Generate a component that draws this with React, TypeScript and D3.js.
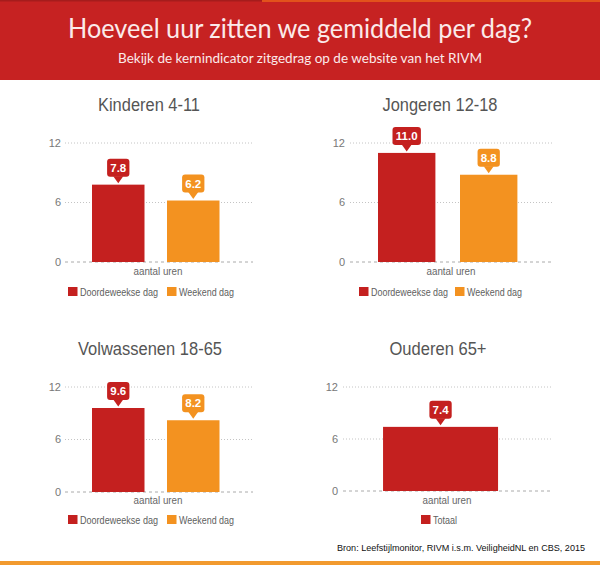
import React from 'react';
import * as d3 from 'd3';

// data
const seriesNames = ["Doordeweekse dag", "Weekend dag"];
const totaalNames = ["Totaal"];
const kinderenValues = [7.8, 6.2];
const jongerenValues = [11.0, 8.8];
const volwassenenValues = [9.6, 8.2];
const ouderenValues = [7.4];
const yTicks = [0, 6, 12];
const panelTitles = ["Kinderen 4-11", "Jongeren 12-18", "Volwassenen 18-65", "Ouderen 65+"];
const xLabel = "aantal uren";
const headerTitle = "Hoeveel uur zitten we gemiddeld per dag?";
const headerSub = "Bekijk de kernindicator zitgedrag op de website van het RIVM";
const sourceText = "Bron: Leefstijlmonitor, RIVM i.s.m. VeiligheidNL en CBS, 2015";

const RED = "#c4201f";
const ORANGE = "#f39220";
const FONT = "'Liberation Sans', Arial, sans-serif";

interface Layout {
  titleX: number; titleY: number; titleW: number;
  tickX: number; gridX: [number, number]; barX: [number, number]; y: [number, number];
  xLabelX: number; xLabelY: number; legendY: number; legendX: number[]; legendW: number[];
}

const layouts: Layout[] = [
  { titleX: 149, titleY: 111, titleW: 102, tickX: 61, gridX: [65, 253], barX: [80.75, 230.75], y: [262, 143], xLabelX: 158, xLabelY: 275, legendY: 287, legendX: [68, 167], legendW: [78, 55] },
  { titleX: 440, titleY: 111, titleW: 115, tickX: 345, gridX: [350, 553], barX: [365.7, 529.7], y: [262, 143], xLabelX: 451, xLabelY: 275, legendY: 287, legendX: [359, 455], legendW: [77, 55] },
  { titleX: 150, titleY: 355, titleW: 144, tickX: 61, gridX: [65, 253], barX: [80.75, 230.75], y: [492, 387], xLabelX: 158, xLabelY: 504, legendY: 515, legendX: [68, 167], legendW: [78, 55] },
  { titleX: 438, titleY: 355, titleW: 97, tickX: 338, gridX: [343, 552], barX: [358.4, 522.7], y: [491, 387], xLabelX: 447, xLabelY: 504, legendY: 515, legendX: [421], legendW: [24] },
];

const labelWidth = (s: string) =>
  s.split("").reduce((w, c) => w + (c === "." ? 3.1 : 6.1), 0) + 7;

interface PanelProps {
  title: string; names: string[]; values: number[]; colors: string[]; layout: Layout;
}

const Panel: React.FC<PanelProps> = ({ title, names, values, colors, layout }) => {
  const x = d3.scaleBand<string>().domain(names).range(layout.barX).paddingInner(0.3).paddingOuter(0.15);
  const y = d3.scaleLinear().domain([0, 12]).range(layout.y);
  const fmt = d3.format(".1f");

  return (
    <g>
      <text x={layout.titleX} y={layout.titleY} textAnchor="middle" fontFamily={FONT} fontSize={17.5}
        fill="#555" textLength={layout.titleW} lengthAdjust="spacingAndGlyphs">{title}</text>

      {yTicks.map(t => (
        <g key={t}>
          <line x1={layout.gridX[0]} x2={layout.gridX[1]} y1={y(t)} y2={y(t)}
            stroke={t === 0 ? "#aaa" : "#c4c4c4"} strokeWidth={1}
            strokeDasharray={t === 0 ? "3,3" : "1,2"} />
          <text x={layout.tickX} y={y(t)} dy="0.35em" textAnchor="end" fontFamily={FONT}
            fontSize={11} fill="#777">{t}</text>
        </g>
      ))}

      {names.map((n, i) => (
        <rect key={n} x={x(n)} y={y(values[i])} width={x.bandwidth()}
          height={y(0) - y(values[i])} fill={colors[i]} />
      ))}

      {names.map((n, i) => {
        const cx = (x(n) ?? 0) + x.bandwidth() / 2;
        const top = y(values[i]);
        const s = fmt(values[i]);
        const w = labelWidth(s);
        const h = 18;
        const bottom = top - 8;
        return (
          <g key={n + "-lbl"}>
            <rect x={cx - w / 2} y={bottom - h} width={w} height={h} rx={3} fill={colors[i]} />
            <path d={`M${cx - 5},${bottom - 0.5} L${cx},${top - 1.5} L${cx + 5},${bottom - 0.5} Z`} fill={colors[i]} />
            <text x={cx} y={bottom - 5} textAnchor="middle" fontFamily={FONT} fontSize={11.5}
              fontWeight="bold" fill="#fff">{s}</text>
          </g>
        );
      })}

      <text x={layout.xLabelX} y={layout.xLabelY} textAnchor="middle" fontFamily={FONT} fontSize={10.5}
        fill="#666" textLength={49} lengthAdjust="spacingAndGlyphs">{xLabel}</text>

      {names.map((n, i) => (
        <g key={n + "-lg"}>
          <rect x={layout.legendX[i]} y={layout.legendY} width={9.5} height={9} fill={colors[i]} />
          <text x={layout.legendX[i] + 12} y={layout.legendY + 8.5} fontFamily={FONT} fontSize={10.5}
            fill="#606060" textLength={layout.legendW[i]} lengthAdjust="spacingAndGlyphs">{n}</text>
        </g>
      ))}
    </g>
  );
};

export default function App() {
  return (
    <svg width={600} height={567} viewBox="0 0 600 567"
      style={{ position: 'absolute', left: 0, top: 0, background: '#fff' }}>
      <rect x={0} y={0} width={600} height={567} fill="#fff" />
      <rect x={0} y={0} width={600} height={80} fill="#c62222" />
      <rect x={0} y={0} width={262} height={1.5} fill="#a61c1c" />
      <rect x={262} y={0} width={338} height={2} fill="#e2521c" />
      <text x={300} y={38} textAnchor="middle" fontFamily="Lato, 'Open Sans', sans-serif" fontSize={26}
        fill="#fbeaea" textLength={464} lengthAdjust="spacingAndGlyphs">{headerTitle}</text>
      <text x={300} y={63} textAnchor="middle" fontFamily="Lato, 'Open Sans', sans-serif" fontSize={14}
        fill="#fbeaea" textLength={364} lengthAdjust="spacingAndGlyphs">{headerSub}</text>

      <Panel title={panelTitles[0]} names={seriesNames} values={kinderenValues} colors={[RED, ORANGE]} layout={layouts[0]} />
      <Panel title={panelTitles[1]} names={seriesNames} values={jongerenValues} colors={[RED, ORANGE]} layout={layouts[1]} />
      <Panel title={panelTitles[2]} names={seriesNames} values={volwassenenValues} colors={[RED, ORANGE]} layout={layouts[2]} />
      <Panel title={panelTitles[3]} names={totaalNames} values={ouderenValues} colors={[RED]} layout={layouts[3]} />

      <text x={585} y={551} textAnchor="end" fontFamily={FONT} fontSize={9.5} fill="#111"
        textLength={248} lengthAdjust="spacingAndGlyphs">{sourceText}</text>
      <rect x={0} y={561} width={600} height={4} fill="#f29a2e" />
    </svg>
  );
}
